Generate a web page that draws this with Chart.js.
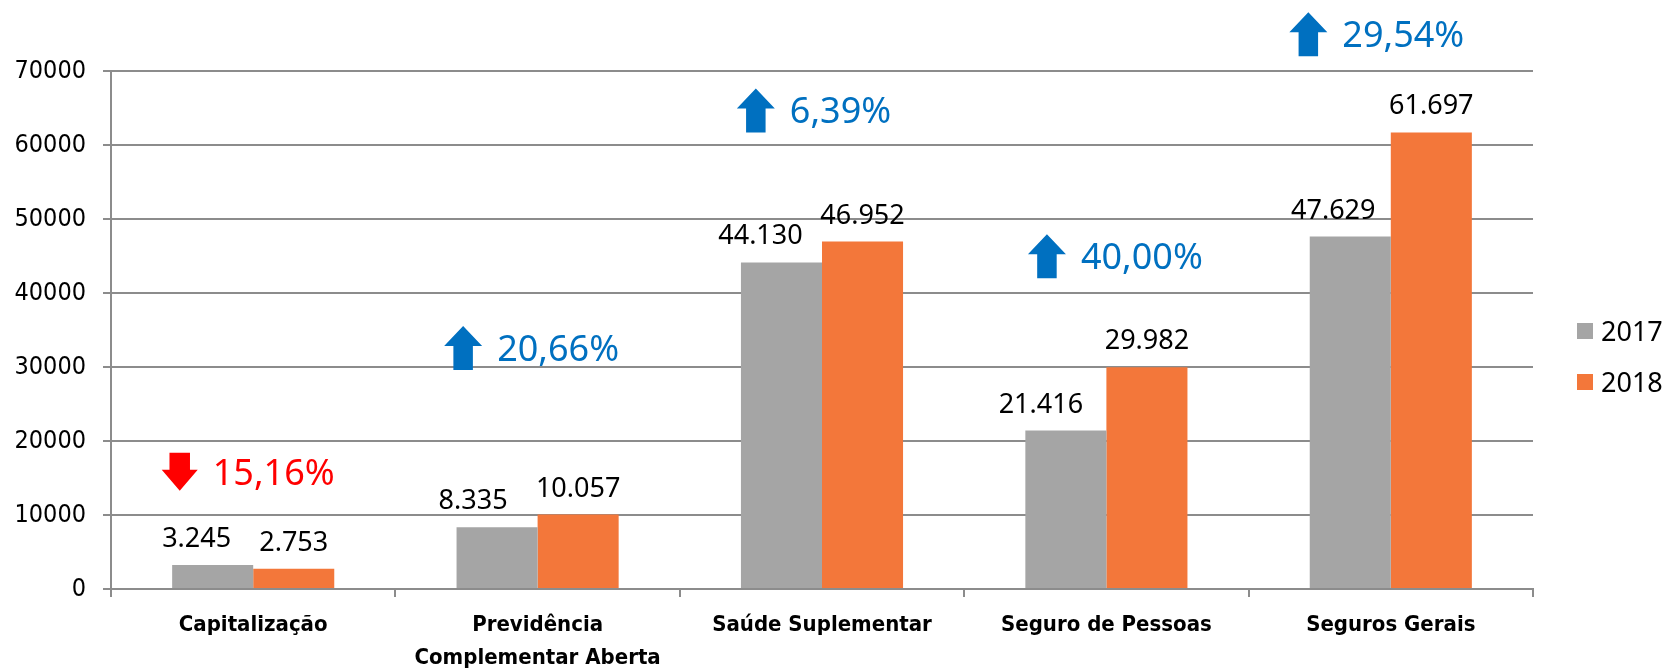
<!DOCTYPE html>
<html>
<head>
<meta charset="utf-8">
<script src="https://cdn.jsdelivr.net/npm/chart.js@4.4.0/dist/chart.umd.min.js"></script>
<style>
  html, body { margin: 0; padding: 0; background: #fff; }
  #wrap { width: 1669px; height: 670px; }
</style>
</head>
<body>
<div id="wrap"><canvas id="chart" width="1669" height="670"></canvas></div>
<script>
// Data
const categories = [
  ['Capitalização'],
  ['Previdência', 'Complementar Aberta'],
  ['Saúde Suplementar'],
  ['Seguro de Pessoas'],
  ['Seguros Gerais']
];
const seriesNames = ['2017', '2018'];
const values2017 = [3245, 8335, 44130, 21416, 47629];
const values2018 = [2753, 10057, 46952, 29982, 61697];
const growthPct = [-15.16, 20.66, 6.39, 40.00, 29.54];
const yTicks = [0, 10000, 20000, 30000, 40000, 50000, 60000, 70000];

const GRAY = '#A5A5A5';
const ORANGE = '#F3773A';
const GRID = '#8C8C8C';
const LABEL_FONT = "'Noto Sans', 'Open Sans', sans-serif";
const AXIS_FONT = "'DejaVu Sans Condensed', 'DejaVu Sans', sans-serif";

function fmtThousands(v) {
  return String(v).replace(/\B(?=(\d{3})+(?!\d))/g, '.');
}

// value labels above each bar
const valueLabels = {
  id: 'valueLabels',
  afterDatasetsDraw(chart, args, opts) {
    const ctx = chart.ctx;
    ctx.save();
    ctx.font = '27px ' + LABEL_FONT;
    ctx.fillStyle = '#000';
    ctx.textAlign = 'center';
    ctx.textBaseline = 'alphabetic';
    chart.data.datasets.forEach((ds, di) => {
      const meta = chart.getDatasetMeta(di);
      meta.data.forEach((bar, i) => {
        const shift = di === 0 ? opts.shift2017[i] : 0;
        ctx.fillText(fmtThousands(ds.data[i]), bar.x + shift, bar.y - opts.gap);
      });
    });
    ctx.restore();
  }
};

// growth % with block arrows
function drawArrow(ctx, left, cy, up) {
  const w = up ? 38 : 36, h = up ? 44 : 38, head = up ? 20 : 21, shaft = up ? 19.5 : 20.5;
  const top = cy - h / 2, mid = left + w / 2;
  ctx.beginPath();
  if (up) {
    ctx.moveTo(mid, top);
    ctx.lineTo(left + w, top + head);
    ctx.lineTo(mid + shaft / 2, top + head);
    ctx.lineTo(mid + shaft / 2, top + h);
    ctx.lineTo(mid - shaft / 2, top + h);
    ctx.lineTo(mid - shaft / 2, top + head);
    ctx.lineTo(left, top + head);
  } else {
    ctx.moveTo(mid, top + h);
    ctx.lineTo(left + w, top + h - head);
    ctx.lineTo(mid + shaft / 2, top + h - head);
    ctx.lineTo(mid + shaft / 2, top);
    ctx.lineTo(mid - shaft / 2, top);
    ctx.lineTo(mid - shaft / 2, top + h - head);
    ctx.lineTo(left, top + h - head);
  }
  ctx.closePath();
  ctx.fill();
}

const growthLabels = {
  id: 'growthLabels',
  afterDraw(chart, args, opts) {
    const ctx = chart.ctx;
    const xs = chart.scales.x, ys = chart.scales.y;
    ctx.save();
    ctx.font = '36px ' + LABEL_FONT;
    ctx.textAlign = 'left';
    ctx.textBaseline = 'alphabetic';
    growthPct.forEach((p, i) => {
      const txt = Math.abs(p).toFixed(2).replace('.', ',') + '%';
      const up = p >= 0;
      const tw = ctx.measureText(txt).width;
      const aw = up ? 38 : 36;
      const groupW = aw + 15 + tw;
      const cx = xs.getPixelForValue(i) + opts.dx[i];
      const cy = ys.getPixelForValue(opts.level[i]);
      const left = cx - groupW / 2;
      ctx.fillStyle = up ? '#0070C0' : '#FF0000';
      drawArrow(ctx, left, cy, up);
      ctx.fillText(txt, left + aw + 15, cy + 36 * 0.357);
    });
    ctx.restore();
  }
};

// legend on the right
const sideLegend = {
  id: 'sideLegend',
  afterDraw(chart) {
    const ctx = chart.ctx;
    const x0 = chart.chartArea.right + 44;
    const rows = [331, 382];
    ctx.save();
    ctx.font = '27px ' + LABEL_FONT;
    ctx.textAlign = 'left';
    ctx.textBaseline = 'alphabetic';
    chart.data.datasets.forEach((ds, i) => {
      ctx.fillStyle = ds.backgroundColor;
      ctx.fillRect(x0, rows[i] - 8, 16, 16);
      ctx.fillStyle = '#000';
      ctx.fillText(ds.label, x0 + 24, rows[i] + 27 * 0.357);
    });
    ctx.restore();
  }
};

const ctx = document.getElementById('chart').getContext('2d');
const chart = new Chart(ctx, {
  type: 'bar',
  data: {
    labels: categories,
    datasets: [
      { label: seriesNames[0], data: values2017, backgroundColor: GRAY },
      { label: seriesNames[1], data: values2018, backgroundColor: ORANGE }
    ]
  },
  options: {
    responsive: false,
    animation: false,
    devicePixelRatio: 1,
    events: [],
    categoryPercentage: 0.57,
    barPercentage: 1.0,
    layout: { padding: { top: 71, right: 136, left: 0, bottom: 0 } },
    plugins: {
      legend: { display: false },
      tooltip: { enabled: false },
      valueLabels: { gap: 18, shift2017: [-16, -24, -21, -25, -17] },
      growthLabels: {
        dx: [-5, -6, -8, 9, -14],
        level: [15850, 32560, 64650, 44950, 74950]
      }
    },
    scales: {
      x: {
        afterFit: s => { s.height = 81; },
        grid: {
          offset: true,
          drawOnChartArea: false,
          drawTicks: true,
          tickLength: 8,
          color: GRID,
          lineWidth: 2
        },
        border: { display: true, color: GRID, width: 2 },
        ticks: {
          color: '#000',
          padding: 12,
          maxRotation: 0,
          font: { family: AXIS_FONT, size: 22, weight: 'bold', lineHeight: 1.5 }
        }
      },
      y: {
        min: 0,
        max: 70000,
        afterFit: s => { s.width = 111; },
        afterBuildTicks: s => { s.ticks = yTicks.map(v => ({ value: v })); },
        grid: { color: GRID, lineWidth: 2, tickLength: 8 },
        border: { display: true, color: GRID, width: 2 },
        ticks: {
          color: '#000',
          padding: 17,
          font: { family: AXIS_FONT, size: 25 },
          callback: v => String(v)
        }
      }
    }
  },
  plugins: [valueLabels, growthLabels, sideLegend]
});
</script>
</body>
</html>
